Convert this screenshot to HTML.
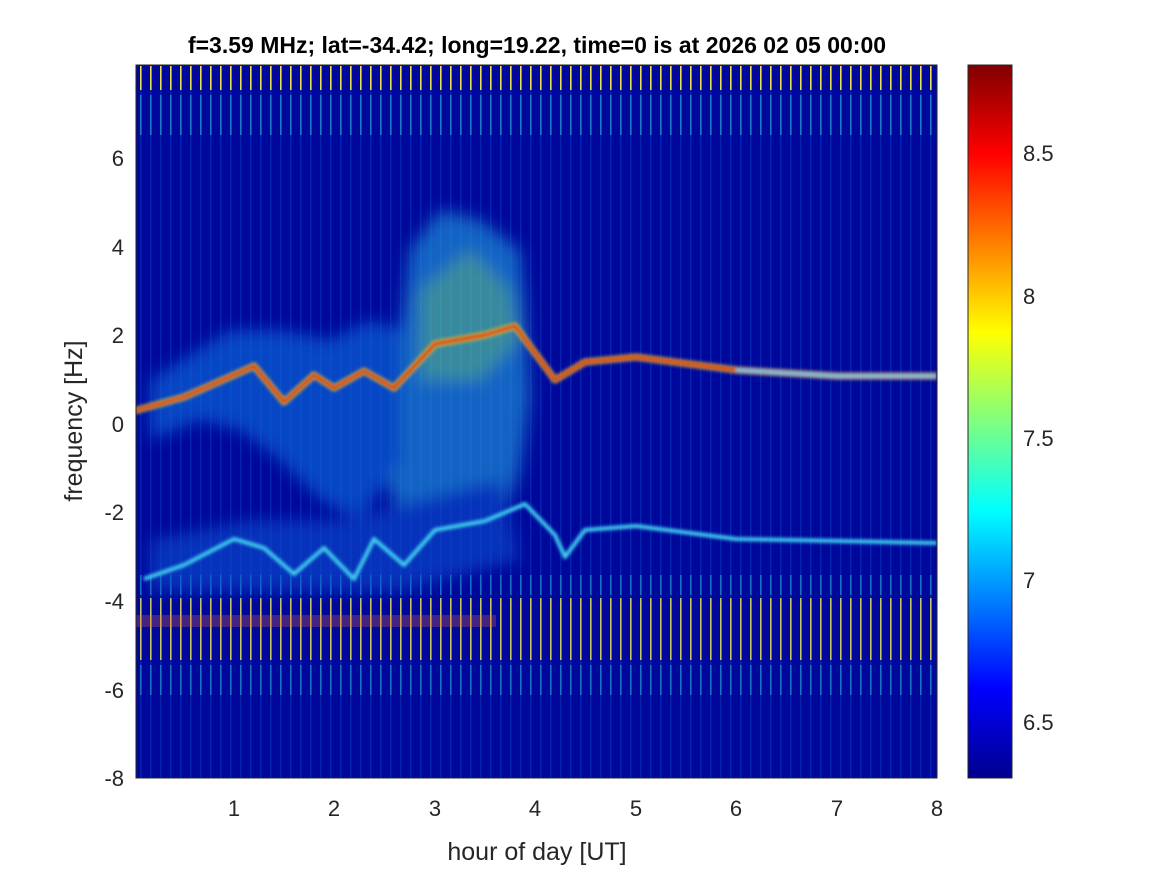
<!DOCTYPE html>
<html><head><meta charset="utf-8"><style>
body{margin:0;background:#fff}
svg{display:block;font-family:"Liberation Sans",Arial,sans-serif}
</style></head><body>
<svg width="1167" height="875" viewBox="0 0 1167 875">
<defs>
<pattern id="st" x="136" y="0" width="10" height="10" patternUnits="userSpaceOnUse">
<rect x="4" y="0" width="1.6" height="10" fill="#e8e050"/>
</pattern>
<pattern id="st2" x="136" y="0" width="10" height="10" patternUnits="userSpaceOnUse">
<rect x="4" y="0" width="1.6" height="10" fill="#30d0e0"/>
</pattern>
<pattern id="st3" x="136" y="0" width="10" height="10" patternUnits="userSpaceOnUse">
<rect x="4" y="0" width="1.5" height="10" fill="#1060d0"/>
</pattern>
<filter id="bl" x="-20%" y="-20%" width="140%" height="140%"><feGaussianBlur stdDeviation="8"/></filter>
<filter id="bl2"><feGaussianBlur stdDeviation="1.5"/></filter>
<linearGradient id="jet" x1="0" y1="1" x2="0" y2="0">
<stop offset="0" stop-color="#00008f"/>
<stop offset="0.125" stop-color="#0000ff"/>
<stop offset="0.375" stop-color="#00ffff"/>
<stop offset="0.625" stop-color="#ffff00"/>
<stop offset="0.875" stop-color="#ff0000"/>
<stop offset="1" stop-color="#800000"/>
</linearGradient>
<clipPath id="cp"><rect x="136" y="65" width="801" height="713"/></clipPath>
</defs>
<rect x="136" y="65" width="801" height="713" fill="#00089c"/>
<g clip-path="url(#cp)">
<rect x="136" y="65" width="801" height="713" fill="url(#st3)" opacity="0.3"/>
<rect x="136" y="66" width="801" height="24" fill="url(#st)"/>
<rect x="136" y="95" width="801" height="40" fill="url(#st2)" opacity="0.5"/>
<rect x="136" y="598" width="801" height="62" fill="url(#st)" opacity="0.85"/>
<rect x="136" y="575" width="801" height="20" fill="url(#st2)" opacity="0.45"/>
<rect x="136" y="665" width="801" height="30" fill="url(#st2)" opacity="0.45"/>
<rect x="136" y="615" width="360" height="12" fill="#e06040" opacity="0.3"/>
<g filter="url(#bl)" opacity="0.6">
<polygon points="400,330 410,250 440,210 480,220 520,250 525,300 530,400 520,470 500,530 460,560 420,560 400,520 380,460" fill="#20a0e0"/>
<polygon points="150,380 230,330 280,330 330,340 370,320 400,330 400,460 360,520 320,500 280,460 240,430 200,420 150,440" fill="#1070e0"/>
<polygon points="420,290 470,250 510,290 520,340 480,380 420,380" fill="#60e0a0"/>
<polygon points="150,540 250,520 350,520 420,500 500,480 520,560 400,590 250,590 150,590" fill="#1050d0"/>
</g>
<g fill="none" stroke-linejoin="round" filter="url(#bl2)">
<polyline stroke="#f0c030" stroke-width="7" opacity="0.8" points="134,411 184,397 234,375 254,366 284,402 314,375 334,388 364,371 394,388 435,344 485,335 515,326 535,353 555,380 585,362 636,357 736,370 837,376 937,376"/>
<polyline stroke="#e02010" stroke-width="3.5" points="134,411 184,397 234,375 254,366 284,402 314,375 334,388 364,371 394,388 435,344 485,335 515,326 535,353 555,380 585,362 636,357 736,370"/>
<polyline stroke="#40c0f0" stroke-width="3" points="736,370 837,376 937,376"/>
<polyline stroke="#40d0f0" stroke-width="4" points="144,579 184,565 234,539 264,548 294,574 324,548 354,579 374,539 404,565 435,530 485,521 525,504 555,535 565,557 585,530 636,526 736,539 937,543"/>
</g>
</g>
<rect x="136" y="65" width="801" height="713" fill="none" stroke="#262626" stroke-width="1"/>
<rect x="968" y="65" width="44" height="713" fill="url(#jet)" stroke="#262626"/>
<g font-size="22" fill="#262626">
<g text-anchor="middle">
<text x="234" y="816">1</text><text x="334" y="816">2</text><text x="435" y="816">3</text><text x="535" y="816">4</text><text x="636" y="816">5</text><text x="736" y="816">6</text><text x="837" y="816">7</text><text x="937" y="816">8</text>
</g>
<g text-anchor="end">
<text x="124" y="166">6</text><text x="124" y="255">4</text><text x="124" y="343">2</text><text x="124" y="432">0</text><text x="124" y="520">-2</text><text x="124" y="609">-4</text><text x="124" y="698">-6</text><text x="124" y="786">-8</text>
</g>
<text x="1023" y="161">8.5</text><text x="1023" y="304">8</text><text x="1023" y="446">7.5</text><text x="1023" y="588">7</text><text x="1023" y="730">6.5</text>
<text x="537" y="860" text-anchor="middle" font-size="25">hour of day [UT]</text>
<text transform="translate(82,421) rotate(-90)" text-anchor="middle" font-size="25">frequency [Hz]</text>
</g>
<text x="537" y="53" text-anchor="middle" font-size="23" font-weight="bold" fill="#000">f=3.59 MHz;  lat=-34.42; long=19.22, time=0 is at 2026 02 05 00:00</text>
</svg>
</body></html>
